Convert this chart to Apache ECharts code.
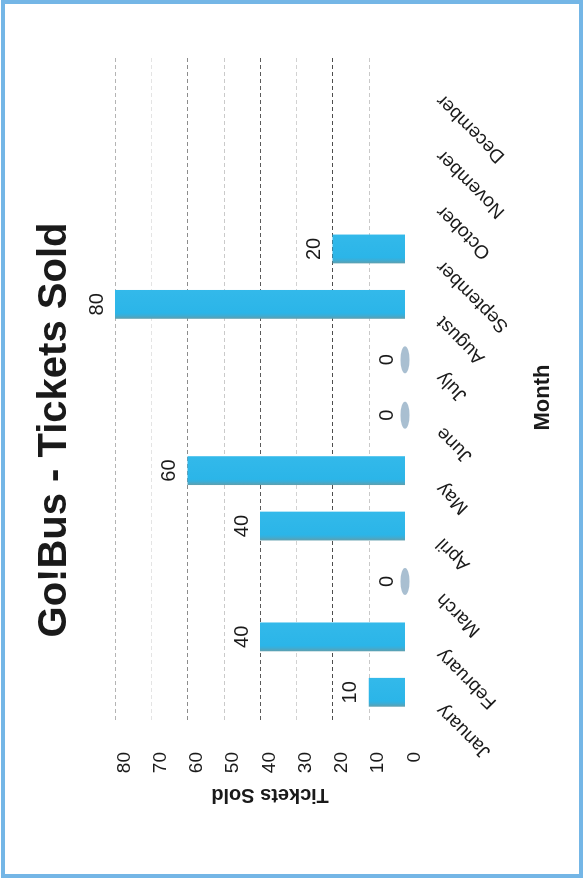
<!DOCTYPE html>
<html>
<head>
<meta charset="utf-8">
<title>Go!Bus - Tickets Sold</title>
<script src="https://cdn.jsdelivr.net/npm/echarts@6/dist/echarts.min.js"></script>
<style>
  html, body { margin: 0; padding: 0; background: #ffffff; }
  body { width: 583px; height: 879px; position: relative; overflow: hidden; }
  /* the chart is laid out landscape and turned a quarter turn to the left */
  #chart {
    position: absolute; left: 0; top: 879px;
    width: 879px; height: 583px;
    transform-origin: 0 0;
    transform: rotate(-90deg);
  }
  #frame {
    position: absolute; left: 1px; top: 0px;
    width: 574px; height: 870px;
    border: 4px solid #74b6e6;
    pointer-events: none;
  }
</style>
</head>
<body>
<div id="chart"></div>
<div id="frame"></div>
<script>
// Monthly ticket sales (no figures yet for October to December)
const months = ['January', 'February', 'March', 'April', 'May', 'June',
                'July', 'August', 'September', 'October', 'November', 'December'];
const ticketsSold = [10, 40, 0, 40, 60, 0, 0, 80, 20, null, null, null];
const valueTicks = [0, 10, 20, 30, 40, 50, 60, 70, 80];

const FONT = '"Liberation Sans", Arial, sans-serif';

// zero months get a flat cap so they remain visible on the baseline
const zeroCaps = ticketsSold.map(v => (v === 0 ? 0 : '-'));

const chart = echarts.init(document.getElementById('chart'), null, { renderer: 'canvas' });

chart.setOption({
  backgroundColor: '#ffffff',
  animation: false,
  title: {
    text: 'Go!Bus - Tickets Sold',
    left: 449,
    textAlign: 'center',
    top: 35,
    padding: 0,
    textStyle: { fontFamily: FONT, fontWeight: 'bold', fontSize: 40, color: '#1a1a1a' }
  },
  grid: { left: 159, right: 55, top: 115, bottom: 178, containLabel: false },
  xAxis: {
    type: 'category',
    data: months,
    name: 'Month',
    nameLocation: 'middle',
    nameGap: 127,
    nameTextStyle: { fontFamily: FONT, fontWeight: 'bold', fontSize: 22, color: '#1a1a1a', padding: [0, 20, 0, 0] },
    axisLine: { show: false },
    axisTick: { show: false },
    axisLabel: {
      rotate: 45,
      interval: 0,
      margin: 20,
      formatter: v => '{m|' + v + '}',
      rich: {
        m: { fontFamily: FONT, fontSize: 19, color: '#1a1a1a', padding: [0, 21, 0, 0] }
      }
    }
  },
  yAxis: {
    type: 'value',
    min: valueTicks[0],
    max: valueTicks[valueTicks.length - 1],
    interval: valueTicks[1] - valueTicks[0],
    name: 'Tickets Sold',
    nameLocation: 'middle',
    nameGap: 64,
    nameTextStyle: { fontFamily: FONT, fontWeight: 'bold', fontSize: 20, color: '#1a1a1a', padding: [0, 20, 0, 0] },
    axisLine: { show: false },
    axisTick: { show: false },
    axisLabel: {
      margin: 32,
      fontFamily: FONT,
      fontSize: 19,
      color: '#1a1a1a',
      verticalAlign: 'top'
    },
    splitLine: {
      show: true,
      lineStyle: {
        type: [4, 3],
        width: 1,
        color: ['rgba(255,255,255,0)', '#c9c9c9', '#4d4d4d', '#d2d2d2', '#5a5a5a',
                '#cacaca', '#8c8c8c', '#e4e4e4', '#b4b4b4']
      }
    }
  },
  series: [
    {
      name: 'Tickets Sold',
      type: 'bar',
      data: ticketsSold,
      barWidth: '52%',
      itemStyle: {
        color: new echarts.graphic.LinearGradient(0, 0, 1, 0, [
          { offset: 0, color: '#5f9fae' },
          { offset: 0.12, color: '#3aaed8' },
          { offset: 0.2, color: '#2bb5e8' },
          { offset: 1, color: '#33b9ea' }
        ])
      },
      label: {
        show: true,
        position: 'top',
        distance: 8,
        fontFamily: FONT,
        fontSize: 20,
        color: '#1a1a1a'
      },
      z: 2
    },
    {
      name: 'Zero caps',
      type: 'scatter',
      data: zeroCaps,
      symbol: 'circle',
      symbolSize: [27, 9],
      itemStyle: { color: '#93afc6' },
      silent: true,
      z: 3
    }
  ]
});
</script>
</body>
</html>
